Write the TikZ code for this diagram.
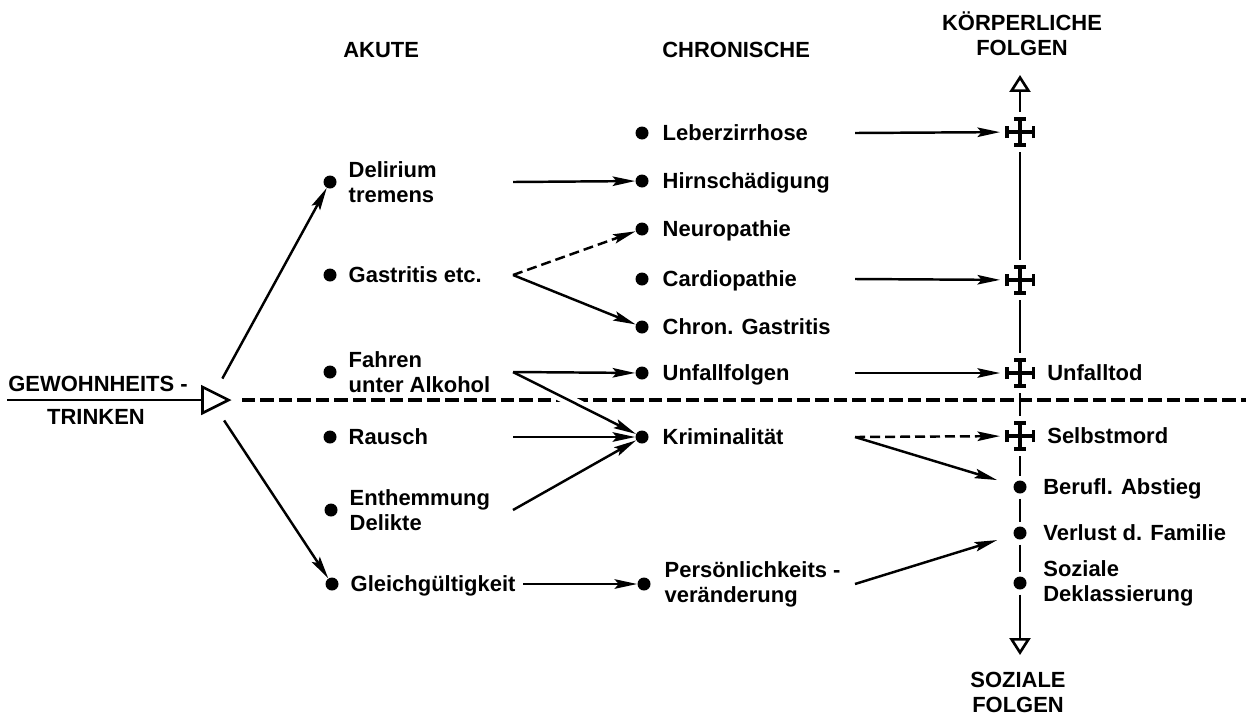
\documentclass[tikz,border=0pt]{standalone}
\usepackage{fontspec}
\setmainfont{Liberation Sans}
\usetikzlibrary{arrows.meta, positioning, shapes.geometric}

\tikzset{
    punkt/.style={circle, fill=black, inner sep=0pt, minimum size=0.26cm},
    achspunkt/.style={punkt, outer sep=0.1cm},
    kreuz/.style={rectangle, fill=white, inner sep=0pt, minimum size=0.6cm, outer sep=0.1cm,
        path picture={
            \draw[line width=2pt]
                ([yshift=-1pt]path picture bounding box.north) -- ([yshift=1pt]path picture bounding box.south)
                ([xshift=1pt]path picture bounding box.west) -- ([xshift=-1pt]path picture bounding box.east);
            \draw[line width=2pt]
                ([shift={(-0.12cm,-1pt)}]path picture bounding box.north) -- ([shift={(0.12cm,-1pt)}]path picture bounding box.north)
                ([shift={(-0.12cm,1pt)}]path picture bounding box.south) -- ([shift={(0.12cm,1pt)}]path picture bounding box.south)
                ([shift={(1pt,-0.12cm)}]path picture bounding box.west) -- ([shift={(1pt,0.12cm)}]path picture bounding box.west)
                ([shift={(-1pt,-0.12cm)}]path picture bounding box.east) -- ([shift={(-1pt,0.12cm)}]path picture bounding box.east);
        }},
    beschr/.style={inner sep=0pt, align=left},
    einzeilig/.style={beschr, text height=9pt, text depth=0pt},
    kopf/.style={inner sep=0pt, align=center},
    pfeil/.style={line width=1.4pt, -{Stealth[length=0.45cm, width=0.19cm, inset=0.08cm]}},
    gestrichelt/.style={dash pattern=on 0.2cm off 0.1cm},
    trenn/.style={line width=1.8pt, dash pattern=on 0.27cm off 0.1cm},
    achse/.style={line width=1.5pt},
    spitze/.tip={Triangle[open, length=0.34cm, width=0.42cm]},
    dreieck/.style={isosceles triangle, isosceles triangle stretches, draw, line width=1.5pt,
        fill=white, inner sep=0pt, minimum width=0.52cm, minimum height=0.52cm}
}

\begin{document}
\begin{tikzpicture}[x=0.02cm, y=-0.02cm, font=\bfseries\fontsize{12.5}{14.3}\selectfont]
    \useasboundingbox (0,0) rectangle (1246,717);

    % Ausgangspunkt
    \node[dreieck, anchor=apex] (gew) at (232,400) {};
    \coordinate (links) at (7,400);
    \coordinate (rechts) at (1246,400);
    \node[anchor=base west, inner sep=0pt] (gewt) at (8,391) {GEWOHNHEITS -};
    \node[anchor=base, inner sep=0pt] (trinkent) at (96,424) {TRINKEN};

    % Spaltenkoepfe
    \node[kopf, anchor=west] (akute) at (343,50) {AKUTE};
    \node[kopf, anchor=west] (chronisch) at (662,50) {CHRONISCHE};
    \node[kopf] (koerper) at (1022,34) {KÖRPERLICHE\\FOLGEN};
    \node[kopf] (sozial) at (1018,692) {SOZIALE\\FOLGEN};

    % Akute Folgen
    \node[punkt] (del) at (330,182) {};
    \node[beschr, right=0.23cm of del] (delt) {Delirium\\tremens};
    \node[punkt] (gast) at (330,275) {};
    \node[einzeilig, right=0.23cm of gast] (gastt) {Gastritis etc.};
    \node[punkt] (fahr) at (330,372) {};
    \node[beschr, right=0.23cm of fahr] (fahrt) {Fahren\\unter Alkohol};
    \node[punkt] (rausch) at (330,437) {};
    \node[einzeilig, right=0.23cm of rausch] (rauscht) {Rausch};
    \node[punkt] (enth) at (331,510) {};
    \node[beschr, right=0.23cm of enth] (entht) {Enthemmung\\Delikte};
    \node[punkt] (gleich) at (332,584) {};
    \node[einzeilig, right=0.23cm of gleich] (gleicht) {Gleichgültigkeit};

    % Chronische Folgen
    \node[punkt] (leber) at (642,133) {};
    \node[einzeilig, right=0.27cm of leber] (lebert) {Leberzirrhose};
    \node[punkt] (hirn) at (642,181) {};
    \node[einzeilig, right=0.27cm of hirn] (hirnt) {Hirnschädigung};
    \node[punkt] (neuro) at (642,229) {};
    \node[einzeilig, right=0.27cm of neuro] (neurot) {Neuropathie};
    \node[punkt] (cardio) at (642,279) {};
    \node[einzeilig, right=0.27cm of cardio] (cardiot) {Cardiopathie};
    \node[punkt] (chron) at (642,327) {};
    \node[einzeilig, right=0.27cm of chron] (chront) {Chron. Gastritis};
    \node[punkt] (unf) at (642,373) {};
    \node[einzeilig, right=0.27cm of unf] (unft) {Unfallfolgen};
    \node[punkt] (krim) at (642,437) {};
    \node[einzeilig, right=0.27cm of krim] (krimt) {Kriminalität};
    \node[punkt] (pers) at (644,584) {};
    \node[beschr, right=0.27cm of pers] (perst) {Persönlichkeits -\\veränderung};

    % Koerperliche und soziale Folgen
    \node[kreuz] (tod1) at (1020,132) {};
    \node[kreuz] (tod2) at (1020,280) {};
    \node[kreuz] (tod3) at (1020,373) {};
    \node[einzeilig, right=0.14cm of tod3] (tod3t) {Unfalltod};
    \node[kreuz] (tod4) at (1020,436) {};
    \node[einzeilig, right=0.14cm of tod4] (tod4t) {Selbstmord};
    \node[achspunkt] (abst) at (1020,487) {};
    \node[einzeilig, right=0.23cm of abst] (abstt) {Berufl. Abstieg};
    \node[achspunkt] (fam) at (1020,533) {};
    \node[einzeilig, right=0.23cm of fam] (famt) {Verlust d. Familie};
    \node[achspunkt] (dekl) at (1020,583) {};
    \node[beschr, right=0.23cm of dekl] (deklt) {Soziale\\Deklassierung};

    \coordinate (akaus) at (513,0);
    \coordinate (chraus) at (855,0);
    \coordinate (koerperpfeil) at (1020,75);
    \coordinate (sozialpfeil) at (1020,655);

    % Trennlinie und Achse
    \draw[achse] (links) -- (gew);
    \draw[trenn, shorten <=0.2cm] (gew) -- (rechts);
    \draw[achse, spitze-] (koerperpfeil) -- (tod1);
    \foreach \a/\b in {tod1/tod2, tod2/tod3, tod3/tod4, tod4/abst, abst/fam, fam/dekl}
        \draw[achse] (\a) -- (\b);
    \draw[achse, -spitze] (dekl) -- (sozialpfeil);

    % Verbindungen
    \draw[pfeil, shorten <=0.3cm] (gew) -- (del);
    \draw[pfeil, shorten <=0.3cm] (gew) -- (gleich);
    \draw[pfeil] (delt -| akaus) -- (hirn);
    \draw[pfeil, gestrichelt] (gastt -| akaus) -- (neuro);
    \draw[pfeil] (gastt -| akaus) -- (chron);
    \draw[pfeil] (fahrt -| akaus) -- (unf);
    \draw[pfeil, preaction={draw=white, line width=6pt, -, shorten <=0.6cm, shorten >=0.8cm}] (fahrt -| akaus) -- (krim);
    \draw[pfeil] (rauscht -| akaus) -- (krim);
    \draw[pfeil] (entht -| akaus) -- (krim);
    \draw[pfeil] ([xshift=0.15cm]gleicht.east) -- (pers);
    \draw[pfeil] (lebert -| chraus) -- (tod1);
    \draw[pfeil] (cardiot -| chraus) -- (tod2);
    \draw[pfeil] (unft -| chraus) -- (tod3);
    \draw[pfeil, gestrichelt] (krimt -| chraus) -- (tod4);
    \draw[pfeil, shorten >=0.25cm] (krimt -| chraus) -- (abst);
    \draw[pfeil, shorten >=0.25cm] (perst -| chraus) -- (fam);
\end{tikzpicture}
\end{document}
